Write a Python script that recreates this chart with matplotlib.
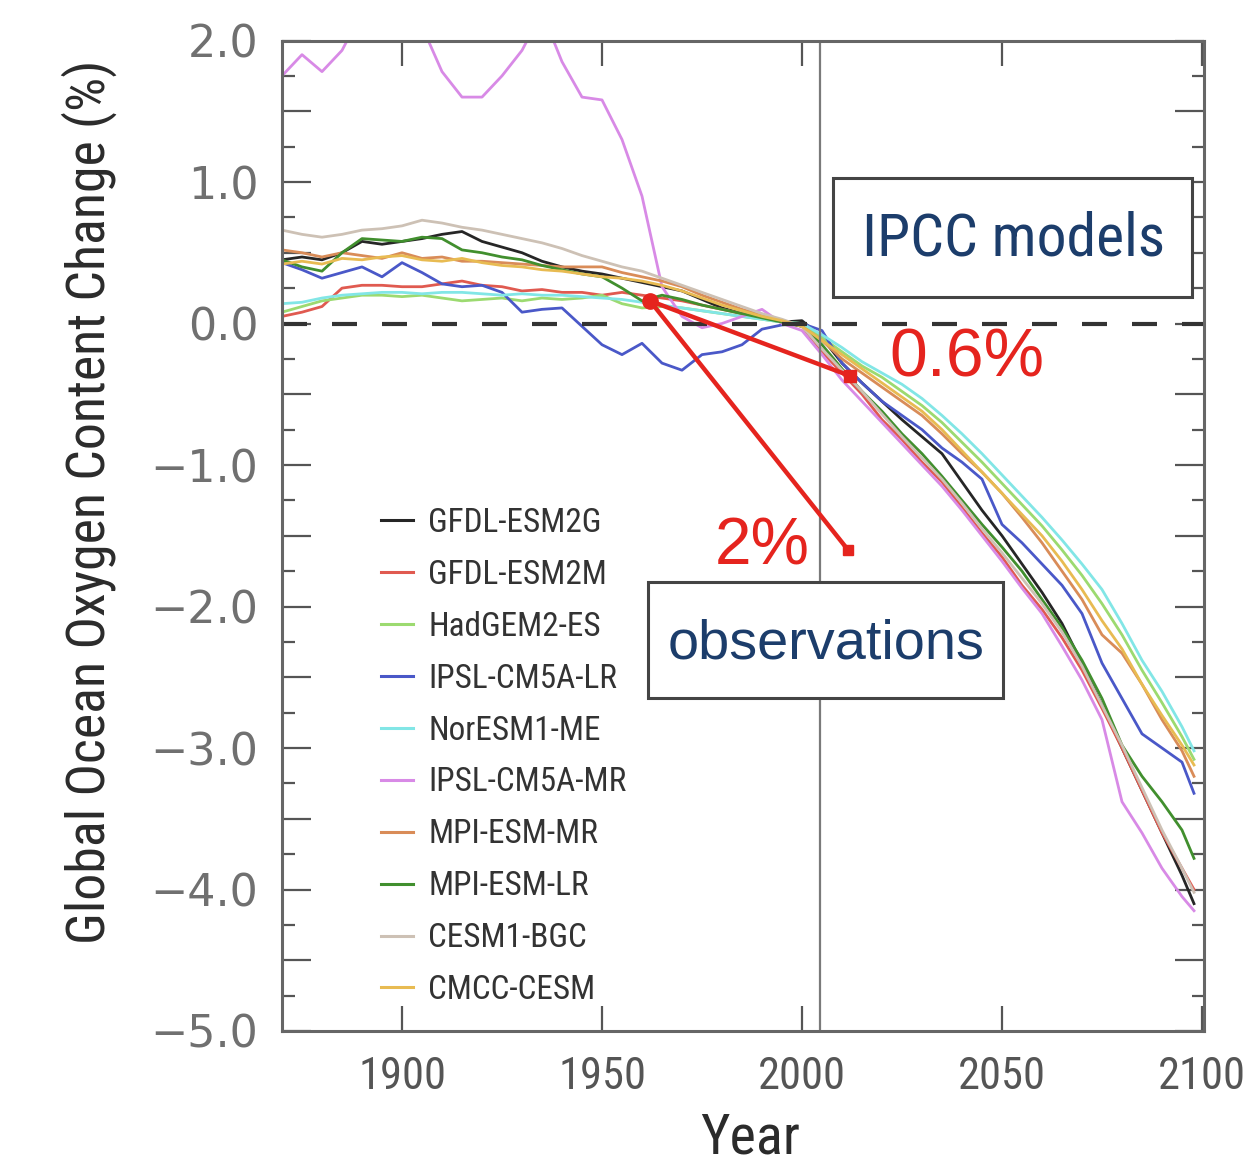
import matplotlib
matplotlib.use("Agg")
import matplotlib.pyplot as plt
import numpy as np
from matplotlib.ticker import FixedLocator, FuncFormatter
from matplotlib.patches import Rectangle
from matplotlib.lines import Line2D
from matplotlib.font_manager import FontProperties, fontManager

# ---------------- data ----------------
YEARS = [1870, 1875, 1880, 1885, 1890, 1895, 1900, 1905, 1910, 1915,
         1920, 1925, 1930, 1935, 1940, 1945, 1950, 1955, 1960, 1965,
         1970, 1975, 1980, 1985, 1990, 1995, 2000, 2005, 2010, 2015,
         2020, 2025, 2030, 2035, 2040, 2045, 2050, 2055, 2060, 2065,
         2070, 2075, 2080, 2085, 2090, 2095, 2098]

MODELS = ["GFDL-ESM2G", "GFDL-ESM2M", "HadGEM2-ES", "IPSL-CM5A-LR", "NorESM1-ME",
          "IPSL-CM5A-MR", "MPI-ESM-MR", "MPI-ESM-LR", "CESM1-BGC", "CMCC-CESM"]

GFDL_ESM2G = [0.45, 0.47, 0.45, 0.50, 0.58, 0.56, 0.58, 0.60, 0.63, 0.65,
              0.58, 0.54, 0.50, 0.44, 0.40, 0.37, 0.35, 0.32, 0.29, 0.26,
              0.23, 0.17, 0.11, 0.07, 0.04, 0.01,
              0.02, -0.10, -0.28, -0.42, -0.55, -0.68, -0.80, -0.92, -1.12, -1.32,
              -1.50, -1.70, -1.90, -2.12, -2.40, -2.70, -3.00, -3.30, -3.60, -3.90, -4.10]
GFDL_ESM2M = [0.05, 0.08, 0.12, 0.25, 0.27, 0.27, 0.26, 0.26, 0.28, 0.30,
              0.27, 0.26, 0.23, 0.24, 0.22, 0.22, 0.20, 0.22, 0.20, 0.18,
              0.16, 0.13, 0.10, 0.07, 0.04, 0.01,
              -0.02, -0.20, -0.35, -0.50, -0.68, -0.82, -0.98, -1.12, -1.30, -1.48,
              -1.65, -1.85, -2.02, -2.22, -2.45, -2.72, -3.00, -3.30, -3.60, -3.85, -4.00]
HADGEM2_ES = [0.08, 0.12, 0.16, 0.18, 0.20, 0.20, 0.19, 0.20, 0.18, 0.16,
              0.17, 0.18, 0.16, 0.18, 0.17, 0.18, 0.20, 0.14, 0.11, 0.12,
              0.11, 0.09, 0.07, 0.05, 0.03, 0.01,
              0.00, -0.10, -0.20, -0.30, -0.38, -0.48, -0.58, -0.70, -0.84, -0.98,
              -1.13, -1.28, -1.43, -1.60, -1.78, -1.98, -2.20, -2.45, -2.68, -2.92, -3.08]
IPSL_CM5A_LR = [0.43, 0.38, 0.32, 0.36, 0.40, 0.33, 0.43, 0.36, 0.28, 0.26,
                0.27, 0.22, 0.08, 0.10, 0.11, -0.02, -0.15, -0.22, -0.14, -0.28,
                -0.33, -0.22, -0.20, -0.15, -0.04, -0.01,
                0.00, -0.05, -0.28, -0.42, -0.55, -0.65, -0.75, -0.88, -0.98, -1.10,
                -1.42, -1.55, -1.70, -1.85, -2.05, -2.40, -2.65, -2.90, -3.00, -3.10, -3.32]
NORESM1_ME = [0.14, 0.15, 0.18, 0.20, 0.21, 0.22, 0.22, 0.21, 0.22, 0.22,
              0.21, 0.20, 0.21, 0.20, 0.20, 0.19, 0.18, 0.17, 0.15, 0.13,
              0.11, 0.09, 0.07, 0.05, 0.03, 0.01,
              0.00, -0.08, -0.17, -0.27, -0.35, -0.43, -0.53, -0.65, -0.78, -0.92,
              -1.07, -1.22, -1.37, -1.53, -1.70, -1.88, -2.12, -2.38, -2.60, -2.85, -3.02]
IPSL_CM5A_MR = [1.75, 1.90, 1.78, 1.93, 2.20, 2.40, 2.40, 2.10, 1.78, 1.60,
                1.60, 1.75, 1.93, 2.20, 1.85, 1.60, 1.58, 1.30, 0.90, 0.26,
                0.05, -0.03, 0.00, 0.05, 0.10, 0.00,
                -0.05, -0.22, -0.40, -0.55, -0.70, -0.85, -1.00, -1.15, -1.32, -1.50,
                -1.68, -1.87, -2.05, -2.28, -2.52, -2.80, -3.38, -3.60, -3.85, -4.05, -4.15]
MPI_ESM_MR = [0.52, 0.50, 0.47, 0.50, 0.48, 0.46, 0.50, 0.46, 0.47, 0.44,
              0.44, 0.43, 0.42, 0.41, 0.40, 0.40, 0.40, 0.36, 0.33, 0.30,
              0.26, 0.20, 0.15, 0.10, 0.06, 0.02,
              -0.02, -0.12, -0.25, -0.35, -0.45, -0.55, -0.65, -0.78, -0.92, -1.05,
              -1.20, -1.37, -1.55, -1.75, -1.95, -2.20, -2.33, -2.55, -2.80, -3.02, -3.20]
MPI_ESM_LR = [0.45, 0.40, 0.37, 0.50, 0.60, 0.59, 0.58, 0.61, 0.60, 0.52,
              0.50, 0.47, 0.45, 0.41, 0.38, 0.35, 0.33, 0.25, 0.16, 0.20,
              0.17, 0.13, 0.10, 0.07, 0.04, 0.01,
              -0.02, -0.15, -0.32, -0.48, -0.62, -0.78, -0.92, -1.08, -1.25, -1.42,
              -1.58, -1.75, -1.95, -2.15, -2.38, -2.65, -2.98, -3.20, -3.38, -3.58, -3.78]
CESM1_BGC = [0.66, 0.63, 0.61, 0.63, 0.66, 0.67, 0.69, 0.73, 0.71, 0.68,
             0.66, 0.63, 0.60, 0.57, 0.53, 0.48, 0.44, 0.40, 0.37, 0.32,
             0.27, 0.22, 0.17, 0.12, 0.07, 0.03,
             -0.02, -0.18, -0.33, -0.48, -0.64, -0.80, -0.95, -1.10, -1.27, -1.45,
             -1.62, -1.80, -1.98, -2.18, -2.42, -2.70, -2.98, -3.28, -3.58, -3.85, -4.02]
CMCC_CESM = [0.42, 0.44, 0.42, 0.46, 0.45, 0.47, 0.48, 0.45, 0.44, 0.46,
             0.43, 0.41, 0.40, 0.38, 0.37, 0.35, 0.33, 0.32, 0.30, 0.27,
             0.23, 0.18, 0.13, 0.09, 0.05, 0.02,
             -0.02, -0.12, -0.22, -0.32, -0.42, -0.52, -0.62, -0.75, -0.90, -1.05,
             -1.20, -1.35, -1.50, -1.68, -1.88, -2.10, -2.30, -2.55, -2.77, -2.98, -3.12]

SERIES = [GFDL_ESM2G, GFDL_ESM2M, HADGEM2_ES, IPSL_CM5A_LR, NORESM1_ME,
          IPSL_CM5A_MR, MPI_ESM_MR, MPI_ESM_LR, CESM1_BGC, CMCC_CESM]

# annotation arrows: observation start, model-change end, observed-change end
ARROW_START = (1962.0, 0.16)
MODEL_END = (2012.0, -0.37)
OBS_END = (2011.5, -1.60)
REFERENCE_YEAR = 2004.5

X_TICKS = [1900, 1950, 2000, 2050, 2100]

# ---------------- styling ----------------
COLORS = ["#262626", "#e05a50", "#9cda70", "#4a58c8", "#82e6e6",
          "#d88ae6", "#d98c58", "#418f2e", "#cdc1b5", "#e8bb52"]
RED = "#e5241e"
NAVY = "#1c3d6b"

_names = {f.name for f in fontManager.ttflist}
_narrow = None
for cand in ["Liberation Sans Narrow", "Roboto Condensed", "Open Sans Condensed",
             "Arial Narrow", "DejaVu Sans Condensed"]:
    if cand in _names:
        _narrow = cand
        break
if _narrow is None:
    _cond = [f.name for f in fontManager.ttflist
             if str(f.stretch) in ("condensed", "semi-condensed", "extra-condensed")
             or (isinstance(f.stretch, int) and f.stretch < 500)]
    _narrow = _cond[0] if _cond else "Liberation Sans"
NARROW = [_narrow, "Liberation Sans", "DejaVu Sans"]


def narrow_fp(size):
    return FontProperties(family=NARROW, stretch="condensed", size=size)


W, H = 1249, 1163
fig = plt.figure(figsize=(W / 100, H / 100), dpi=100)
ax = fig.add_axes([282 / W, 1 - 1031 / H, (1204 - 282) / W, (1031 - 40.5) / H])
ax.set_xlim(1870, 2100.5)
ax.set_ylim(-5, 2)

for name, vals, col in zip(MODELS, SERIES, COLORS):
    ax.plot(YEARS, vals, color=col, lw=2.0, solid_joinstyle="round", zorder=2)

ax.axhline(0, color="#333333", lw=3, dashes=(6, 6), zorder=3)
ax.axvline(REFERENCE_YEAR, color="#7a7a7a", lw=1.6, zorder=3)

# red arrows
ax.plot([ARROW_START[0], MODEL_END[0]], [ARROW_START[1], MODEL_END[1]],
        color=RED, lw=3.2, zorder=6, solid_capstyle="round")
ax.plot([ARROW_START[0], OBS_END[0]], [ARROW_START[1], OBS_END[1]],
        color=RED, lw=3.2, zorder=6, solid_capstyle="round")
ax.plot([ARROW_START[0]], [ARROW_START[1]], "o", color=RED, ms=11, zorder=7)
ax.plot([MODEL_END[0]], [MODEL_END[1]], "s", color=RED, ms=8, zorder=7)
ax.plot([OBS_END[0]], [OBS_END[1]], "s", color=RED, ms=7, zorder=7)

# boxes
ax.add_patch(Rectangle((2007.75, 0.19), 89.75, 0.835, facecolor="white",
                       edgecolor="#444444", lw=2.2, zorder=8))
ax.add_patch(Rectangle((1961.5, -2.65), 88.75, 0.82, facecolor="white",
                       edgecolor="#444444", lw=2.2, zorder=8))

t_ipcc = ax.text(2052.75, 0.60, "IPCC models", color=NAVY, fontproperties=narrow_fp(45),
                 ha="center", va="center", zorder=9)
t_obs = ax.text(2006.0, -2.27, "observations", color=NAVY, family=["Liberation Sans", "DejaVu Sans"],
                fontsize=40, ha="center", va="center", zorder=9)
t_06 = ax.text(2041.25, -0.25, "0.6%", color=RED, family=["Liberation Sans", "DejaVu Sans"],
               fontsize=48, ha="center", va="center", zorder=9)
t_2 = ax.text(1990.0, -1.58, "2%", color=RED, family=["Liberation Sans", "DejaVu Sans"],
              fontsize=46, ha="center", va="center", zorder=9)


# ticks
def yfmt(v, p):
    if abs(v - round(v)) < 1e-6:
        v = 0.0 if abs(v) < 1e-9 else v
        return f"{v:.1f}".replace("-", "\u2212")
    return ""


ax.yaxis.set_major_locator(FixedLocator(np.arange(-5, 2.01, 0.5)))
ax.yaxis.set_major_formatter(FuncFormatter(yfmt))
ax.yaxis.set_minor_locator(FixedLocator(np.arange(-5, 2.01, 0.25)))
ax.xaxis.set_major_locator(FixedLocator(X_TICKS))
ax.xaxis.set_major_formatter(FuncFormatter(lambda v, p: f"{int(round(v))}"))

ax.tick_params(axis="y", which="major", direction="in", length=21, width=1.6,
               left=True, right=True, pad=17, labelsize=32, labelcolor="#707070", color="#555555")
ax.tick_params(axis="y", which="minor", direction="in", length=9, width=1.6,
               left=True, right=True, color="#555555")
ax.tick_params(axis="x", which="major", direction="in", length=18, width=1.6,
               top=True, bottom=True, pad=18, labelcolor="#555555", color="#555555")

for s in ax.spines.values():
    s.set_color("#666666")
    s.set_linewidth(2.2)
    s.set_zorder(10)

# measure narrow font to size legend / x tick labels to the reference widths
fig.canvas.draw()
r = fig.canvas.get_renderer()


def measure(text, fp):
    t = fig.text(0, 0, text, fontproperties=fp)
    w = t.get_window_extent(r).width
    t.remove()
    return w


leg_size = 20 * 198 / measure("IPSL-CM5A-MR", narrow_fp(20))
tick_size = 30 * 88 / measure("1900", narrow_fp(30))

for lbl in ax.get_xticklabels():
    lbl.set_fontproperties(narrow_fp(tick_size))

# legend
handles = [Line2D([], [], color=c, lw=2.2) for c in COLORS]
row_pt = 53.1 * 0.72
leg = ax.legend(handles, MODELS, loc="upper left",
                bbox_to_anchor=(381 / W, 1 - 507 / H), bbox_transform=fig.transFigure,
                frameon=False, prop=narrow_fp(leg_size),
                handlelength=23 / leg_size, handletextpad=11 / leg_size,
                labelspacing=(row_pt - leg_size) / leg_size,
                borderpad=0, borderaxespad=0)
for t in leg.get_texts():
    t.set_color("#333333")
leg.set_zorder(9)

# axis labels
ylab = fig.text(89 / W, 1 - 502 / H, "Global Ocean Oxygen Content Change (%)",
                rotation=90, ha="center", va="center", fontproperties=narrow_fp(34), color="#2b2b2b")
xlab = fig.text(750 / W, 1 - 1138 / H, "Year", ha="center", va="center",
                fontproperties=narrow_fp(36), color="#2b2b2b")

fig.canvas.draw()
r = fig.canvas.get_renderer()


def fit(t, target, use_height=False):
    bb = t.get_window_extent(r)
    cur = bb.height if use_height else bb.width
    t.set_fontsize(t.get_fontsize() * target / cur)


fit(t_ipcc, 303)
fit(t_obs, 317)
fit(t_06, 155)
fit(t_2, 95)
fit(ylab, 885, use_height=True)
fit(xlab, 100)

fig.savefig("out.png", dpi=100)
